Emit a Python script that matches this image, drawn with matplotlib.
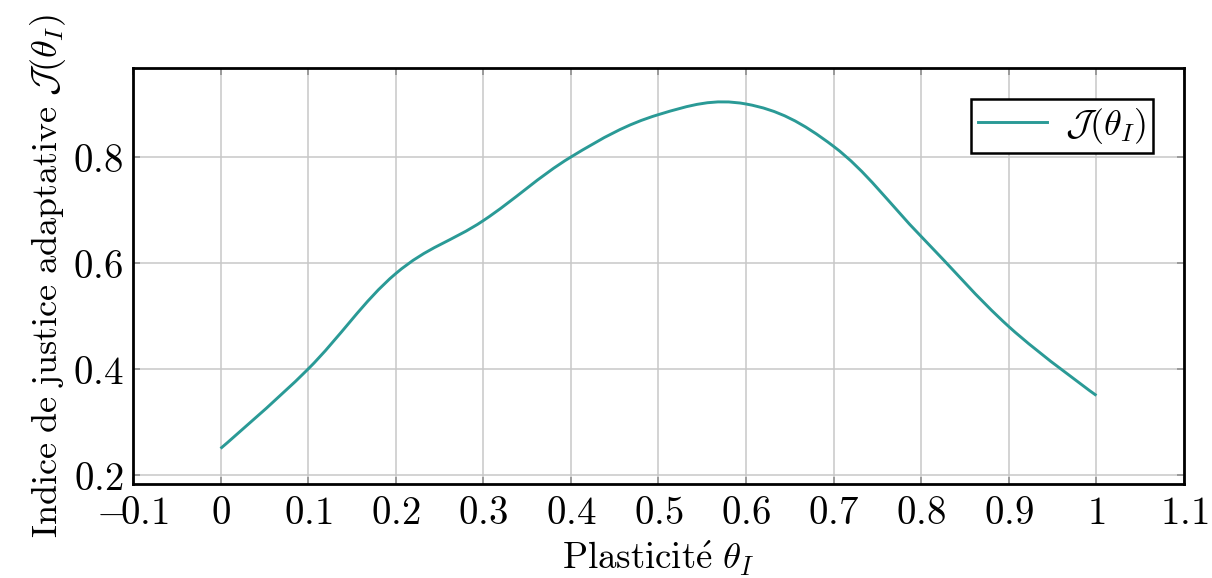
import matplotlib
matplotlib.use("Agg")
import matplotlib.pyplot as plt
import numpy as np
from matplotlib.path import Path
from matplotlib.patches import PathPatch
from matplotlib.lines import Line2D
from matplotlib.ticker import FuncFormatter, MultipleLocator

plt.rcParams['mathtext.fontset'] = 'cm'

# data
theta = [0.0, 0.1, 0.2, 0.3, 0.4, 0.5, 0.6, 0.7, 0.8, 0.9, 1.0]
justice = [0.25, 0.40, 0.58, 0.68, 0.80, 0.88, 0.90, 0.82, 0.65, 0.48, 0.35]

line_color = '#2a9a96'


def smooth_path(xs, ys, tension=0.55):
    # tikz-like "smooth": cubic bezier pieces through every point
    p = np.column_stack([xs, ys])
    n = len(p)
    tang = np.zeros_like(p)
    for i in range(1, n - 1):
        tang[i] = (p[i + 1] - p[i - 1]) * tension / 3.0
    verts = [p[0]]
    codes = [Path.MOVETO]
    for i in range(n - 1):
        verts += [p[i] + tang[i], p[i + 1] - tang[i + 1], p[i + 1]]
        codes += [Path.CURVE4] * 3
    return Path(verts, codes)


def tick_fmt(v, pos):
    s = '%g' % round(v, 2)
    if s.startswith('-'):
        return r'$-\!%s$' % s[1:]
    return '$%s$' % s


fig = plt.figure(figsize=(12.12, 5.78), dpi=100)
ax = fig.add_axes([0.1097, 0.1626, 0.8672, 0.7198])

ax.add_patch(PathPatch(smooth_path(theta, justice), fill=False,
                       edgecolor=line_color, lw=2.1, zorder=3))

ax.set_xlim(-0.1, 1.1)
ax.set_ylim(0.183, 0.968)
ax.xaxis.set_major_locator(MultipleLocator(0.1))
ax.yaxis.set_major_locator(MultipleLocator(0.2))

fmt = FuncFormatter(tick_fmt)
ax.xaxis.set_major_formatter(fmt)
ax.yaxis.set_major_formatter(fmt)

ax.grid(True, color='#c8c8c8', lw=1.1)
ax.set_axisbelow(True)
ax.tick_params(direction='in', length=5, width=1.1, color='#8a8a8a',
               top=True, right=True, labelsize=28, pad=7)
for s in ax.spines.values():
    s.set_linewidth(2.0)
    s.set_color('black')

ax.set_xlabel(r'$\mathrm{Plasticit\acute{e}}\ \theta_I$', fontsize=26.5, labelpad=5)
ax.set_ylabel(r'$\mathrm{Indice\ de\ justice\ adaptative}\ \mathcal{J}(\theta_I)$',
              fontsize=26, labelpad=3)

handle = Line2D([], [], color=line_color, lw=2.1)
leg = ax.legend([handle], [r'$\mathcal{J}(\theta_I)$'], loc='upper right',
                fontsize=26, fancybox=False, framealpha=1, edgecolor='black',
                borderaxespad=0.85, handlelength=1.9, handletextpad=0.5,
                borderpad=0.2)
leg.get_frame().set_linewidth(1.8)

fig.savefig('out.png', dpi=100)
